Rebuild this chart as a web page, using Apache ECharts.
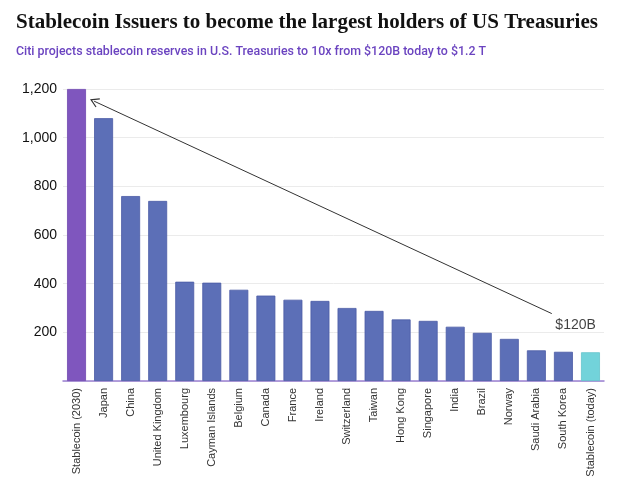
<!DOCTYPE html>
<html><head><meta charset="utf-8">
<script src="https://cdn.jsdelivr.net/npm/echarts@6/dist/echarts.min.js"></script>
<style>html,body{margin:0;padding:0;background:#fff}#c{width:620px;height:488px}</style>
</head><body><div id="c"></div>
<script>
const categories = ['Stablecoin (2030)','Japan','China','United Kingdom','Luxembourg','Cayman Islands','Belgium','Canada','France','Ireland','Switzerland','Taiwan','Hong Kong','Singapore','India','Brazil','Norway','Saudi Arabia','South Korea','Stablecoin (today)'];
const values = [1200,1080,760,740,408,404,375,351,334,329,300,288,253,247,223,198,173,126,120,118];
const yTicks = [0,200,400,600,800,1000,1200];
const arrowFrom = [17.57, 277];
const arrowTo = [0.65, 1150];
const annotText = '$120B';
const annotPos = [18.45, 228];

const colorFor = (i) => i === 0 ? '#7f56be' : (i === categories.length - 1 ? '#72d3da' : '#5c6fb7');
const n = categories.length;
const chart = echarts.init(document.getElementById('c'));
chart.setOption({
  animation: false,
  title: [
    {text: 'Stablecoin Issuers to become the largest holders of US Treasuries', left: 11, top: 7,
     textStyle: {fontFamily: 'Liberation Serif', fontWeight: 'bold', fontSize: 21, color: '#111'}},
    {text: 'Citi projects stablecoin reserves in U.S. Treasuries to 10x from $120B today to $1.2 T', left: 11, top: 41,
     textStyle: {fontFamily: 'Roboto', fontWeight: 500, fontSize: 12.4, color: '#6b44c0'}}
  ],
  grid: {left: 63, right: 16, top: 89, bottom: 107, containLabel: false},
  xAxis: [
    {type: 'category', data: categories,
     axisLine: {lineStyle: {color: '#9b80d2', width: 1.5}}, axisTick: {show: false},
     axisLabel: {rotate: 90, interval: 0, fontFamily: 'Liberation Sans', fontSize: 11, color: '#333', margin: 7}},
    {type: 'value', min: -0.5, max: n - 0.5, show: false}
  ],
  yAxis: {type: 'value', min: 0, max: 1200, interval: 200,
    axisLine: {show: false}, axisTick: {show: false},
    splitLine: {lineStyle: {color: '#ebebeb'}},
    axisLabel: {fontFamily: 'Liberation Sans', fontSize: 14, color: '#111', margin: 6,
      formatter: (v) => yTicks.includes(v) && v !== 0 ? v.toLocaleString('en-US') : ''}},
  series: [
    {type: 'bar', data: values.map((v, i) => ({value: v, itemStyle: {color: colorFor(i), borderColor: i===0?'#7048b0':(i===n-1?'#64c4cc':'#4b5ca6'), borderWidth: 0.8}})),
     barWidth: '70%'},
    {type: 'scatter', xAxisIndex: 1, data: [annotPos], symbolSize: 1, itemStyle: {color: 'rgba(0,0,0,0)'},
     label: {show: true, position: 'inside', formatter: annotText, fontFamily: 'Liberation Sans', fontSize: 14, color: '#111'},
     markLine: {silent: true, symbol: ['none', 'path://M0,0 L5,8 L4,8.6 L0,2.2 L-4,8.6 L-5,8 Z'], symbolSize: [10, 9],
       lineStyle: {color: '#333', width: 1, type: 'solid'}, label: {show: false},
       data: [[{coord: arrowFrom}, {coord: arrowTo}]]}}
  ]
});
</script></body></html>
